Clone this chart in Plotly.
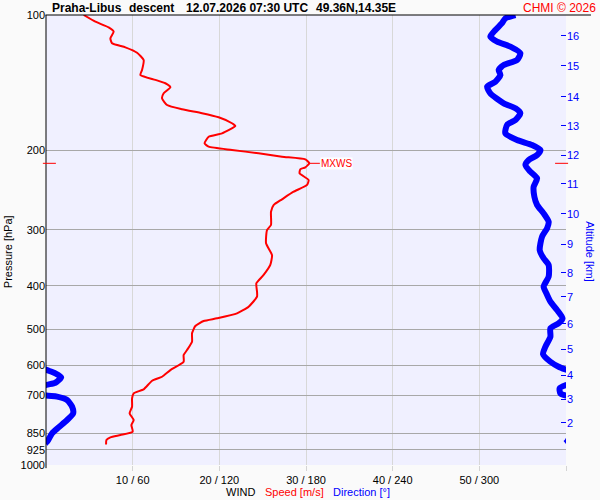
import numpy as np
import plotly.graph_objects as go

# ---- data ----
speed_p = [100, 103.5, 106.5, 108.9, 112.7, 115.6, 118.0, 121.3, 125.9, 132.5,
           135.9, 139.4, 141.8, 144.7, 149.3, 153.2, 158.5, 162.0, 165.3, 168.8,
           174.0, 176.4, 183.2, 186.4, 192.8, 196.2, 199.5, 202.9, 206.5, 209.3,
           213.6, 218.0, 220.2, 224.8, 232.6, 238.6, 247.0, 256.8, 264.4, 273.6,
           292.9, 300.5, 321.6, 341.5, 359.3, 378.2, 394.6, 411.9, 422.7, 444.9,
           460.2, 472.1, 478.6, 491.0, 509.7, 532.1, 555.4, 569.8, 589.6, 615.2,
           636.6, 649.8, 678.9, 693.0, 711.0, 742.1, 767.7, 794.3, 814.9, 843.3,
           857.7, 867.9, 880.1, 900.6]
speed = [4.35, 5.70, 7.23, 7.81, 7.43, 7.62, 9.16, 10.51, 11.27, 11.08,
         10.89, 12.62, 13.77, 14.35, 13.58, 13.39, 13.97, 15.70, 18.0, 19.92,
         21.46, 21.85, 20.31, 18.77, 18.30, 18.77, 21.46, 24.53, 27.23, 29.92,
         30.38, 29.92, 29.34, 29.26, 30.30, 30.12, 28.57, 27.23, 26.26, 25.96,
         25.96, 25.50, 25.39, 26.08, 25.88, 25.11, 24.27, 24.35, 24.35, 23.38,
         22.04, 19.73, 18.19, 17.23, 16.85, 16.85, 16.27, 15.88, 15.88, 14.35,
         13.39, 12.24, 11.27, 10.12, 9.93, 9.93, 9.65, 10.12, 9.85, 10.0,
         8.58, 7.43, 6.97, 6.93]

dir_p = [100, 101.7, 104.3, 108.0, 111.7, 114.6, 117.6, 121.7, 125.9, 129.2,
         132.5, 135.9, 140.7, 144.3, 149.3, 157.1, 161.2, 165.3, 171.1, 175.5,
         183.2, 189.6, 194.5, 199.5, 204.7, 210.0, 215.4, 222.9, 230.6, 240.7,
         253.4, 264.4, 275.9, 288.0, 297.8, 310.9, 332.9, 347.3, 359.3, 381.5,
         401.6, 415.3, 433.6, 452.5, 472.1, 484.3, 496.8, 518.7, 546.1, 566.9,
         589.6, 604.7, 615.2, 625.5, 638.4, 656.5, 664.3, 675.4, 693.0, 700.8,
         705.0, 717.1, 742.1, 767.7, 794.3, 824.6, 850.4, 887.7, 894.9]
direction = [325.0, 318.0, 315.7, 311.1, 307.6, 312.3, 321.5, 328.4, 326.1, 316.9,
             313.4, 314.6, 311.1, 305.4, 307.6, 316.9, 325.0, 328.4, 325.0, 319.2,
             318.0, 326.1, 336.5, 342.3, 340.0, 334.2, 331.9, 335.3, 340.0, 337.6,
             338.1, 340.0, 344.5, 348.0, 346.9, 343.4, 341.8, 344.5, 348.0, 348.0,
             344.5, 346.4, 349.2, 353.8, 357.6, 354.9, 349.2, 349.2, 345.7, 344.1,
             349.2, 354.9, 0.7, 6.5, 10.5, 6.5, 0.0, 355.6, 356.1, 0.0,
             7.7, 14.6, 18.1, 18.8, 14.6, 8.8, 4.2, 0.8, 359.6]

mxws_p = 213.6
mxws_speed = 30.4

p_ticks = [100, 200, 300, 400, 500, 600, 700, 850, 925, 1000]
x_ticks = [10, 20, 30, 40, 50, 60]
x_ticktext = ["10 / 60", "20 / 120", "30 / 180", "40 / 240", "50 / 300", ""]
alt_km = [2, 3, 4, 5, 6, 7, 8, 9, 10, 11, 12, 13, 14, 15, 16]
alt_p = [806.5, 713.5, 631.0, 552.5, 486.0, 423.2, 373.8, 322.8, 276.8, 237.4,
         204.7, 176.4, 152.1, 129.8, 111.3]

RED = "#FF0000"
BLUE = "#0000FF"
FONT = "Liberation Sans, Arial, sans-serif"

fig = go.Figure()

# wind direction (wrapped around 0/360)
unw = np.degrees(np.unwrap(np.radians(direction)))
for off in (-360, 0, 360):
    fig.add_trace(go.Scatter(x=unw + off, y=dir_p, xaxis="x2", yaxis="y",
                             mode="lines", line=dict(color=BLUE, width=6, shape="spline", smoothing=0.6),
                             hoverinfo="skip", showlegend=False))

# wind speed
fig.add_trace(go.Scatter(x=speed, y=speed_p, mode="lines",
                         line=dict(color=RED, width=2, shape="spline", smoothing=0.5),
                         showlegend=False))

# dummy for altitude axis
fig.add_trace(go.Scatter(x=[None], y=[None], yaxis="y2", showlegend=False))

fig.update_layout(
    width=600, height=500,
    margin=dict(l=46, r=34, t=15, b=35, autoexpand=False),
    paper_bgcolor="#FAFAFA", plot_bgcolor="#F0F0FF",
    font=dict(family=FONT, size=11, color="black"),
    showlegend=False,
    xaxis=dict(range=[0, 60], tickvals=x_ticks, ticktext=x_ticktext,
               ticks="outside", ticklen=5, tickcolor="#D4D4D4",
               showgrid=True, gridcolor="#D8D8D8", gridwidth=1,
               zeroline=False, showline=False, automargin=False,
               tickfont=dict(size=11, color="black")),
    xaxis2=dict(range=[0, 360], overlaying="x", visible=False, anchor="y"),
    yaxis=dict(type="log", range=[3, 2], tickvals=p_ticks,
               ticktext=[str(v) for v in p_ticks],
               showgrid=True, gridcolor="#A8A8A8", gridwidth=1,
               zeroline=False, showline=False, ticks="", automargin=False,
               tickfont=dict(size=11, color="black")),
    yaxis2=dict(type="log", range=[3, 2], overlaying="y", side="right",
                tickvals=alt_p, ticktext=[str(v) for v in alt_km],
                ticks="inside", ticklen=5, tickcolor=BLUE, tickwidth=1,
                showgrid=False, zeroline=False, showline=False, automargin=False,
                tickfont=dict(size=11, color=BLUE)),
)

# frame lines
fig.add_shape(type="line", xref="paper", yref="paper", x0=-0.001, x1=1.048, y0=1, y1=1,
              line=dict(color="black", width=1))
fig.add_shape(type="line", xref="paper", yref="paper", x0=0, x1=0, y0=-0.007, y1=1,
              line=dict(color="black", width=1))

# MXWS markers
fig.add_shape(type="line", xref="paper", yref="y", x0=-0.006, x1=0.019, y0=mxws_p, y1=mxws_p,
              line=dict(color=RED, width=1))
fig.add_shape(type="line", xref="paper", yref="y", x0=0.979, x1=1.004, y0=mxws_p, y1=mxws_p,
              line=dict(color=RED, width=1))
fig.add_shape(type="line", xref="x", yref="y", x0=mxws_speed, x1=mxws_speed + 1.2,
              y0=mxws_p, y1=mxws_p, line=dict(color=RED, width=1))
fig.add_annotation(x=mxws_speed + 1.2, y=np.log10(mxws_p), xref="x", yref="y",
                   text="MXWS", showarrow=False, xanchor="left", yanchor="middle",
                   bgcolor="white", borderpad=0, font=dict(color=RED, size=10))

# title pieces
title_parts = [("Praha-Libus", 0.009), ("descent", 0.1577),
               ("12.07.2026 07:30 UTC", 0.2673), ("49.36N,14.35E", 0.5173)]
for txt, xp in title_parts:
    fig.add_annotation(x=xp, y=1.0156, xref="paper", yref="paper", text="<b>" + txt + "</b>",
                       showarrow=False, xanchor="left", yanchor="middle", borderpad=0,
                       font=dict(size=12, color="black"))
fig.add_annotation(x=1.0596, y=1.0156, xref="paper", yref="paper", text="CHMI © 2026",
                   showarrow=False, xanchor="right", yanchor="middle", borderpad=0,
                   font=dict(size=12, color=RED))

# axis titles
fig.add_annotation(x=-0.073, y=0.473, xref="paper", yref="paper", text="Pressure [hPa]",
                   textangle=-90, showarrow=False, xanchor="center", yanchor="middle",
                   font=dict(size=11, color="black"))
fig.add_annotation(x=1.046, y=0.473, xref="paper", yref="paper", text="Altitude [km]",
                   textangle=90, showarrow=False, xanchor="center", yanchor="middle",
                   font=dict(size=11, color=BLUE))
for txt, xp, col in [("WIND", 0.344, "black"), ("Speed [m/s]", 0.419, RED),
                     ("Direction [°]", 0.55, BLUE)]:
    fig.add_annotation(x=xp, y=-0.0593, xref="paper", yref="paper", text=txt,
                       showarrow=False, xanchor="left", yanchor="middle", borderpad=0,
                       font=dict(size=11, color=col))

fig.write_html("out.html", config={"displayModeBar": False},
               post_script="document.body.style.margin='0';document.body.style.padding='0';")
